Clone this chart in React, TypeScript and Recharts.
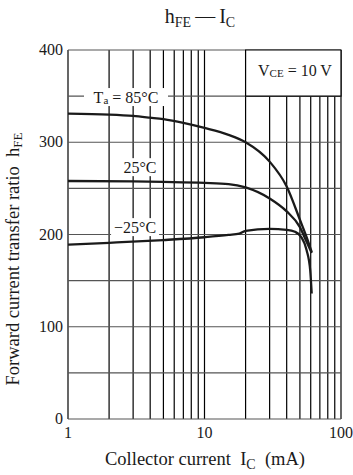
import React from "react";
import {
  LineChart,
  Line,
  XAxis,
  YAxis,
  CartesianGrid,
  ReferenceArea,
  ReferenceDot,
} from "recharts";

// collector current (mA) vs hFE
const hot85 = [
  { x: 1, y: 331 },
  { x: 2, y: 330 },
  { x: 3, y: 328.5 },
  { x: 4, y: 326.6 },
  { x: 5, y: 325 },
  { x: 7, y: 321 },
  { x: 10, y: 315.5 },
  { x: 15, y: 308 },
  { x: 20, y: 300 },
  { x: 30, y: 279 },
  { x: 40, y: 252 },
  { x: 50, y: 216 },
  { x: 57, y: 194 },
  { x: 61, y: 181 },
];

const room25 = [
  { x: 1, y: 258 },
  { x: 3, y: 257.5 },
  { x: 5, y: 257 },
  { x: 10, y: 256 },
  { x: 15, y: 254.7 },
  { x: 20, y: 251 },
  { x: 30, y: 239 },
  { x: 40, y: 225 },
  { x: 50, y: 208 },
  { x: 56, y: 192 },
  { x: 61, y: 180 },
];

const cold25 = [
  { x: 1, y: 189 },
  { x: 2, y: 191 },
  { x: 5, y: 194 },
  { x: 10, y: 197 },
  { x: 15, y: 199.5 },
  { x: 18, y: 201 },
  { x: 20, y: 204 },
  { x: 30, y: 206 },
  { x: 40, y: 205 },
  { x: 46, y: 203 },
  { x: 51, y: 197.5 },
  { x: 56, y: 183 },
  { x: 59.5, y: 161 },
  { x: 61, y: 136 },
];

const xTicks = [1, 2, 3, 4, 5, 6, 7, 8, 9, 10, 20, 30, 40, 50, 60, 70, 80, 90, 100];
const xTickLabels = [1, 10, 100];
const yTicks = [0, 50, 100, 150, 200, 250, 300, 350, 400];
const yTickLabels = [0, 100, 200, 300, 400];

const serif = "'Liberation Serif', 'Times New Roman', serif";
const ink = "#1a1a1a";

const XTick = (props: any) => {
  const { x, y, payload } = props;
  if (!xTickLabels.includes(payload.value)) return <g />;
  return (
    <text x={x} y={y + 11} textAnchor="middle" fontFamily={serif} fontSize={16} fill={ink}>
      {payload.value}
    </text>
  );
};

const YTick = (props: any) => {
  const { x, y, payload } = props;
  if (!yTickLabels.includes(payload.value)) return <g />;
  return (
    <text x={x + 1} y={y + 5} textAnchor="end" fontFamily={serif} fontSize={16} fill={ink}>
      {payload.value}
    </text>
  );
};

const boxLabel =
  (w: number, content: React.ReactNode) =>
  (props: any) => {
    const { cx, cy } = props;
    return (
      <g>
        <rect x={cx - w / 2} y={cy - 9} width={w} height={18} fill="#fff" />
        <text
          x={cx}
          y={cy}
          textAnchor="middle"
          dominantBaseline="central"
          fontFamily={serif}
          fontSize={16}
          fill={ink}
        >
          {content}
        </text>
      </g>
    );
  };

export default function App() {
  return (
    <div
      style={{
        position: "absolute",
        left: 0,
        top: 0,
        width: 353,
        height: 475,
        background: "#fff",
        fontFamily: serif,
        color: ink,
      }}
    >
      <div
        style={{
          position: "absolute",
          left: 0,
          width: 400,
          top: 5,
          textAlign: "center",
          fontSize: 20,
        }}
      >
        h<span style={{ fontSize: 14, position: "relative", top: 4 }}>FE</span>
        <span style={{ margin: "0 4px" }}>—</span>I
        <span style={{ fontSize: 14, position: "relative", top: 4 }}>C</span>
      </div>
      <LineChart
        width={353}
        height={475}
        margin={{ top: 50, right: 12, bottom: 26, left: 8 }}
        style={{ fontFamily: serif }}
      >
        <CartesianGrid horizontal={false} stroke="#000" strokeWidth={1.2} />
        <CartesianGrid vertical={false} stroke="#555" strokeWidth={1.2} />
        <XAxis
          dataKey="x"
          type="number"
          scale="log"
          domain={[1, 100]}
          ticks={xTicks}
          interval={0}
          allowDataOverflow
          axisLine={false}
          tickLine={false}
          height={30}
          tick={XTick}
        />
        <YAxis
          type="number"
          domain={[0, 400]}
          ticks={yTicks}
          interval={0}
          axisLine={false}
          tickLine={false}
          width={60}
          tickSize={4}
          tickMargin={2}
          tick={YTick}
        />
        <ReferenceArea
          x1={20}
          x2={100}
          y1={350}
          y2={400}
          fill="#fff"
          fillOpacity={1}
          stroke="#000"
          strokeWidth={1.2}
        />
        <ReferenceDot
          x={46}
          y={378}
          r={0}
          shape={boxLabel(
            90,
            <>
              V
              <tspan fontSize={11} dy={3}>CE</tspan>
              <tspan dy={-3}> = 10 V</tspan>
            </>
          )}
        />
        <ReferenceDot
          x={2.66}
          y={349}
          r={0}
          shape={boxLabel(
            84,
            <>
              T
              <tspan fontSize={11} dy={3}>a</tspan>
              <tspan dy={-3}> = 85°C</tspan>
            </>
          )}
        />
        <ReferenceDot x={3.37} y={273} r={0} shape={boxLabel(42, "25°C")} />
        <ReferenceDot x={3.1} y={208} r={0} shape={boxLabel(48, "−25°C")} />
        <Line
          data={hot85}
          dataKey="y"
          type="monotone"
          stroke={ink}
          strokeWidth={2.3}
          dot={false}
          isAnimationActive={false}
        />
        <Line
          data={room25}
          dataKey="y"
          type="monotone"
          stroke={ink}
          strokeWidth={2.3}
          dot={false}
          isAnimationActive={false}
        />
        <Line
          data={cold25}
          dataKey="y"
          type="monotone"
          stroke={ink}
          strokeWidth={2.3}
          dot={false}
          isAnimationActive={false}
        />
      </LineChart>
      <div
        style={{
          position: "absolute",
          left: 105,
          top: 449,
          width: 200,
          textAlign: "center",
          fontSize: 18.5,
          whiteSpace: "nowrap",
        }}
      >
        Collector current&nbsp; I
        <span style={{ fontSize: 14, position: "relative", top: 4 }}>C</span>
        &nbsp; (mA)
      </div>
      <div
        style={{
          position: "absolute",
          left: 15 - 150,
          top: 259 - 12,
          width: 300,
          height: 24,
          textAlign: "center",
          fontSize: 18.5,
          whiteSpace: "nowrap",
          transform: "rotate(-90deg)",
        }}
      >
        Forward current transfer ratio&nbsp; h
        <span style={{ fontSize: 13, position: "relative", top: 3 }}>FE</span>
      </div>
    </div>
  );
}
